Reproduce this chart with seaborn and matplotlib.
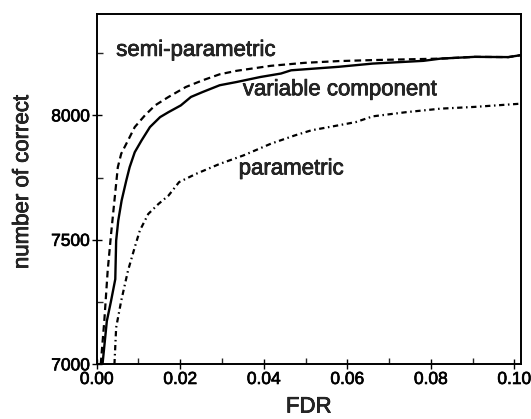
import numpy as np
import pandas as pd
import matplotlib
matplotlib.use("Agg")
import matplotlib.pyplot as plt
import matplotlib.patheffects as pe
import seaborn as sns
from matplotlib.ticker import MultipleLocator

# ---- data ----
vc_fdr = [0.00139, 0.00243, 0.00344, 0.00445, 0.00466, 0.00516, 0.00597, 0.00708, 0.00789, 0.00911,
          0.01073, 0.01275, 0.01518, 0.0172, 0.02014, 0.02257, 0.0254, 0.02945, 0.0335, 0.03916,
          0.04412, 0.04655, 0.05789, 0.06608, 0.07823, 0.08238, 0.09047, 0.09857, 0.1016]
vc_correct = [7000, 7174, 7255, 7342, 7497, 7577, 7658, 7738, 7792, 7852,
              7899, 7953, 7993, 8013, 8040, 8074, 8094, 8121, 8134, 8154,
              8168, 8181, 8195, 8208, 8219, 8228, 8235, 8234, 8242]

semi_fdr = [0.00097, 0.00182, 0.00263, 0.00344, 0.00425, 0.00506, 0.00587, 0.00749, 0.00911, 0.01154,
            0.01397, 0.0172, 0.02135, 0.0254, 0.02945, 0.0335, 0.04169, 0.04979, 0.05789, 0.06608,
            0.07418, 0.08238, 0.09047, 0.09857, 0.1016]
semi_correct = [7000, 7174, 7376, 7523, 7658, 7792, 7846, 7899, 7953, 8000,
                8040, 8074, 8114, 8141, 8165, 8179, 8199, 8211, 8218, 8222,
                8225, 8228, 8235, 8234, 8242]

par_fdr = [0.00425, 0.00466, 0.00587, 0.00749, 0.00911, 0.01032, 0.01235, 0.01478, 0.0172, 0.01973,
           0.02378, 0.02945, 0.03512, 0.04169, 0.04736, 0.05141, 0.05789, 0.06204, 0.06608, 0.07418,
           0.08238, 0.09047, 0.1016]
par_correct = [7000, 7148, 7255, 7376, 7470, 7537, 7604, 7644, 7678, 7732,
               7765, 7805, 7839, 7886, 7919, 7940, 7960, 7973, 7996, 8013,
               8027, 8034, 8047]

labels = ["semi-parametric", "variable component", "parametric"]
x_ticks = [0.00, 0.02, 0.04, 0.06, 0.08, 0.10]
y_ticks = [7000, 7500, 8000]

sns.set_style("ticks")
plt.rcParams['font.family'] = ['Liberation Sans', 'DejaVu Sans']

fig = plt.figure(figsize=(5.31, 4.19), dpi=100)
ax = fig.add_axes([0.1821, 0.1305, 0.7991, 0.8354])

lw = 1.6
sns.lineplot(x=semi_fdr, y=semi_correct, ax=ax, color="black", lw=lw,
             estimator=None, sort=False)
ax.lines[-1].set_dashes((3.0, 1.9))
sns.lineplot(x=vc_fdr, y=vc_correct, ax=ax, color="black", lw=lw + 0.1,
             estimator=None, sort=False)
sns.lineplot(x=par_fdr, y=par_correct, ax=ax, color="black", lw=lw,
             estimator=None, sort=False)
ax.lines[-1].set_dashes((2.4, 1.6, 0.7, 1.6))

ax.set_xlim(0, 0.1016)
ax.set_ylim(7000, 8406)
ax.set_xticks(x_ticks)
ax.set_xticklabels([f"{v:.2f}" for v in x_ticks])
ax.set_yticks(y_ticks)
ax.xaxis.set_minor_locator(MultipleLocator(0.01))
ax.yaxis.set_minor_locator(MultipleLocator(250))
ax.tick_params(which="major", direction="inout", length=7, width=1.0,
               labelsize=12.5, colors="black")
ax.tick_params(axis="x", which="major", pad=2)
ax.tick_params(axis="y", which="major", pad=1.5)
ax.tick_params(which="minor", direction="in", length=4, width=1.0)
for s in ax.spines.values():
    s.set_linewidth(1.4)
    s.set_color("black")

ax.set_xlabel("FDR", fontsize=16)
ax.set_ylabel("number of correct", fontsize=16)
ax.xaxis.set_label_coords(0.5, -0.092)
ax.yaxis.set_label_coords(-0.150, 0.521)

ax.text(0.00468, 8261, labels[0], fontsize=16, va="center", ha="left")
ax.text(0.0350, 8103, labels[1], fontsize=16, va="center", ha="left")
ax.text(0.0340, 7785, labels[2], fontsize=16, va="center", ha="left")

heavy = [pe.withStroke(linewidth=0.5, foreground="black")]
for t in ax.texts + ax.get_xticklabels() + ax.get_yticklabels() + [ax.xaxis.label, ax.yaxis.label]:
    t.set_path_effects(heavy)

fig.savefig("out.png", dpi=100)
